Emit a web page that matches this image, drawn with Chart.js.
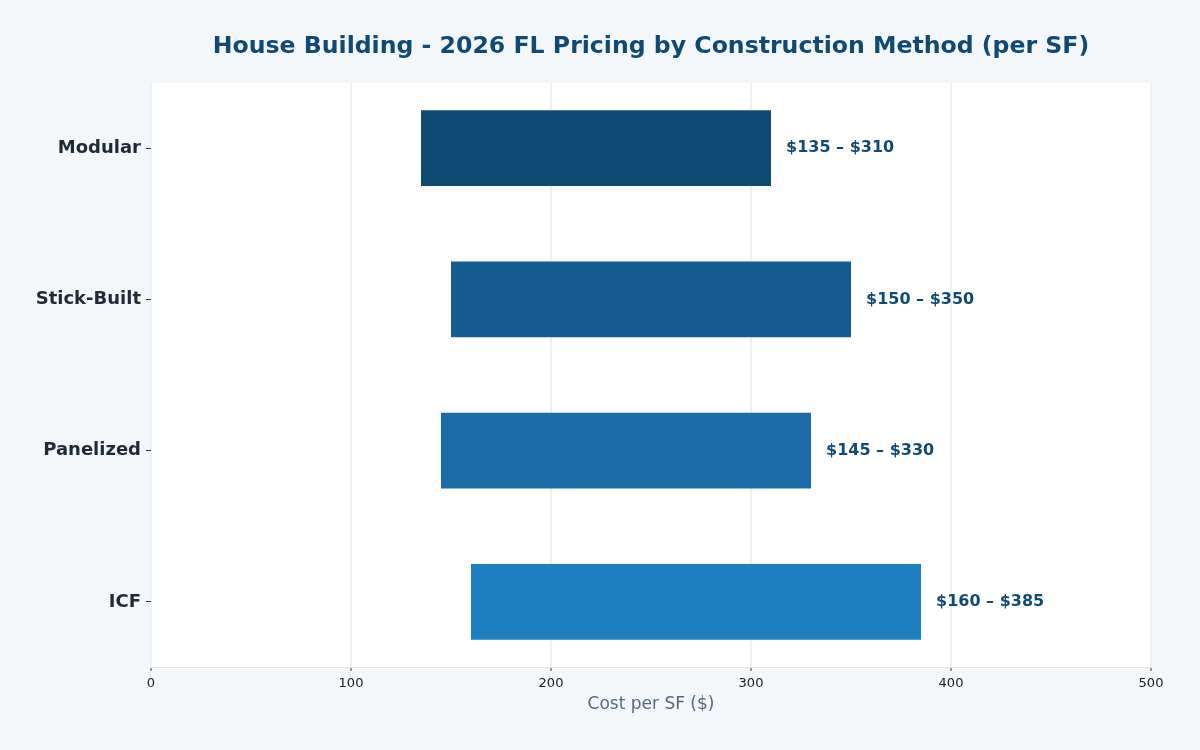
<!DOCTYPE html>
<html>
<head>
<meta charset="utf-8">
<script src="https://cdn.jsdelivr.net/npm/chart.js@4.4.1/dist/chart.umd.min.js"></script>
<style>
  html, body { margin: 0; padding: 0; background: #f4f7fa; }
  #wrap { width: 1200px; height: 750px; }
</style>
</head>
<body>
<div id="wrap"><canvas id="c" width="1200" height="750"></canvas></div>
<script>
const categories = ['Modular', 'Stick-Built', 'Panelized', 'ICF'];
const lowValues = [135, 150, 145, 160];
const highValues = [310, 350, 330, 385];
const barColors = ['#0f4a75', '#155c8e', '#1b6ba8', '#1e7fc1'];
const xTicks = [0, 100, 200, 300, 400, 500];

const FONT = "'DejaVu Sans', sans-serif";

const plotBg = {
  id: 'plotBg',
  beforeDraw(chart) {
    const { ctx, chartArea: a } = chart;
    ctx.save();
    ctx.fillStyle = '#ffffff';
    ctx.fillRect(a.left, a.top, a.right - a.left, a.bottom - a.top);
    ctx.restore();
  }
};

const rangeLabels = {
  id: 'rangeLabels',
  afterDatasetsDraw(chart) {
    const { ctx } = chart;
    const meta = chart.getDatasetMeta(0);
    ctx.save();
    ctx.font = "bold 16px " + FONT;
    ctx.fillStyle = '#0f4a75';
    ctx.textAlign = 'left';
    ctx.textBaseline = 'middle';
    meta.data.forEach((el, i) => {
      const txt = '$' + lowValues[i] + ' \u2013 $' + highValues[i];
      ctx.fillText(txt, el.x + 15, el.y);
    });
    ctx.restore();
  }
};

new Chart(document.getElementById('c'), {
  type: 'bar',
  data: {
    datasets: [{
      data: categories.map((c, i) => ({ x: [lowValues[i], highValues[i]], y: i })),
      backgroundColor: barColors,
      borderWidth: 0,
      borderSkipped: false,
      categoryPercentage: 1,
      barPercentage: 0.5
    }]
  },
  options: {
    indexAxis: 'y',
    responsive: false,
    animation: false,
    layout: { padding: { left: 0, right: 49, top: 0, bottom: 0 } },
    plugins: {
      legend: { display: false },
      tooltip: { enabled: false },
      title: {
        display: true,
        fullSize: false,
        text: 'House Building - 2026 FL Pricing by Construction Method (per SF)',
        color: '#0f4a75',
        font: { family: FONT, size: 23.6, weight: 'bold' },
        padding: { top: 33, bottom: 21.7 }
      }
    },
    scales: {
      x: {
        type: 'linear',
        min: 0,
        max: 500,
        afterBuildTicks(scale) { scale.ticks = xTicks.map(v => ({ value: v })); },
        afterFit(scale) { scale.height = 83; },
        grid: {
          color: '#edf1f5',
          lineWidth: 2,
          tickColor: '#333333',
          tickLength: 4,
          tickWidth: 1
        },
        border: { display: true, color: '#dde4eb', width: 1 },
        ticks: {
          color: '#1a1a1a',
          font: { family: FONT, size: 13 },
          padding: 5
        },
        title: {
          display: true,
          text: 'Cost per SF ($)',
          color: '#56687e',
          font: { family: FONT, size: 17 },
          padding: { top: 4, bottom: 35 }
        }
      },
      y: {
        type: 'linear',
        reverse: true,
        offset: false,
        min: -0.43,
        max: 3.43,
        afterBuildTicks(scale) { scale.ticks = categories.map((c, i) => ({ value: i })); },
        afterFit(scale) { scale.width = 151; },
        grid: {
          offset: false,
          drawOnChartArea: false,
          tickColor: '#333333',
          tickLength: 5,
          tickWidth: 1
        },
        border: { display: false },
        ticks: {
          color: '#1f2a36',
          font: { family: FONT, size: 18, weight: 'bold' },
          padding: 5,
          callback: (v) => categories[v] !== undefined ? categories[v] : ''
        }
      }
    }
  },
  plugins: [plotBg, rangeLabels]
});
</script>
</body>
</html>
